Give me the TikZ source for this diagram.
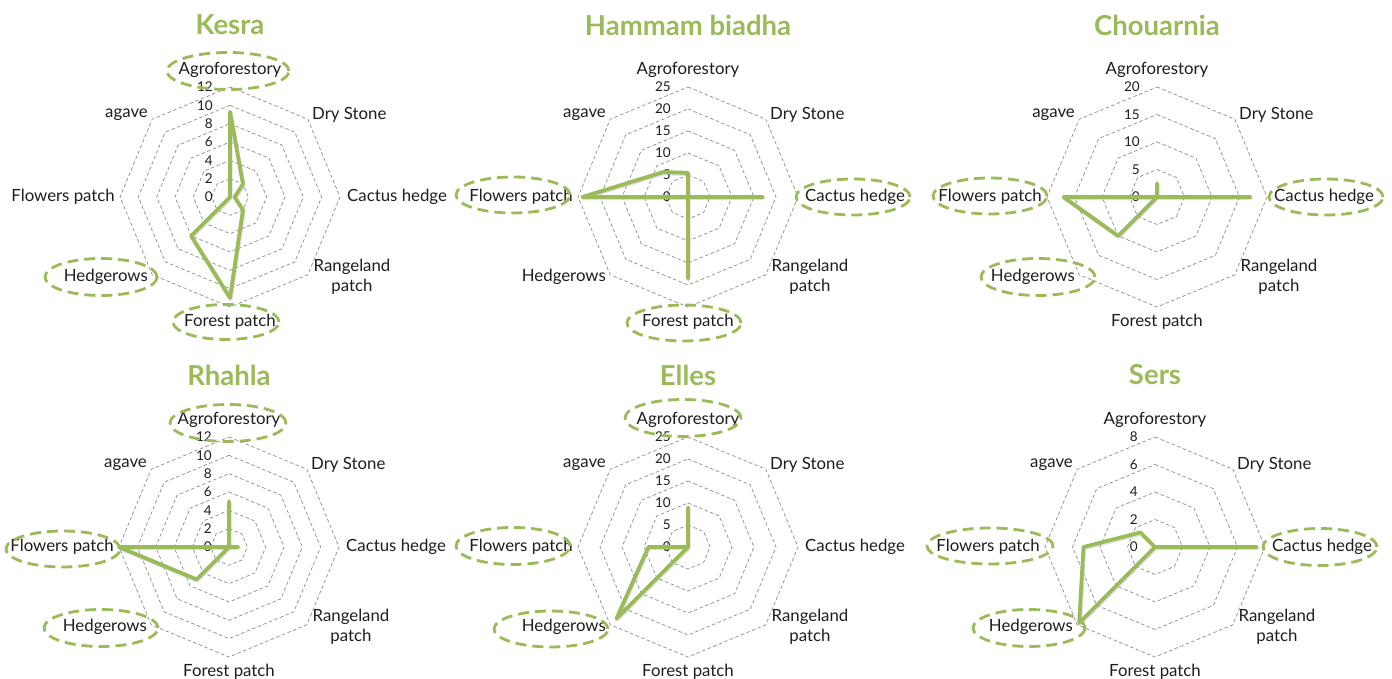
\documentclass[tikz,border=0pt]{standalone}
\usepackage{fontspec}
\setmainfont{Lato}
\definecolor{xlgreen}{HTML}{9BBB59}
\definecolor{gridgray}{HTML}{8C8C8C}
\definecolor{txt}{HTML}{1E1E1E}
\tikzset{
  gridring/.style={draw=gridgray, line width=0.7pt, dash pattern=on 3.5pt off 2.5pt, line join=round},
  dataline/.style={draw=xlgreen, line width=3.8pt, line join=round, line cap=round},
  shadowline/.style={draw=black!35, opacity=0.35, line width=3.8pt, line join=round, line cap=round},
  hlring/.style={draw=xlgreen, line width=2.8pt, dash pattern=on 11pt off 6pt},
  lab/.style={inner sep=0pt, font=\fontsize{16.8}{20}\selectfont, text=txt},
  tickl/.style={inner sep=0pt, anchor=east, font=\fontsize{13.5}{15}\selectfont, text=txt},
  ttl/.style={inner sep=0pt, font=\fontsize{27.5}{32}\selectfont\bfseries, text=xlgreen},
}
% #1 prefix, #2 cx, #3 cy, #4 max, #5 step, #6 title, #7 data
\newcommand\radarchart[7]{%
  \begin{scope}[shift={(#2,#3)}]
    \pgfmathtruncatemacro\nrings{#4/#5}
    \foreach \k in {1,...,\nrings}{%
      \pgfmathsetmacro\rr{\k*#5*110/#4}
      \pgfmathtruncatemacro\ticklab{\k*#5}
      \draw[gridring] (90:\rr) -- (45:\rr) -- (0:\rr) -- (-45:\rr) -- (-90:\rr) -- (-135:\rr) -- (180:\rr) -- (135:\rr) -- cycle;
      \node[tickl] (#1t\k) at (-17,\rr) {\ticklab};
    }
    \node[tickl] (#1t0) at (-17,0) {0};
    \node[ttl] (#1title) at (0,172) {#6};
    \node[lab] (#1agro) at (0,127) {Agroforestory};
    \node[lab,anchor=west] (#1dry) at (82,82) {Dry Stone};
    \node[lab,anchor=west] (#1cac) at (117,0) {Cactus hedge};
    \node[lab,align=center] (#1ran) at (122,-80) {Rangeland\\patch};
    \node[lab] (#1for) at (0,-125) {Forest patch};
    \node[lab,anchor=east] (#1hed) at (-82,-80) {Hedgerows};
    \node[lab,anchor=east] (#1flo) at (-115,0) {Flowers patch};
    \node[lab,anchor=east] (#1aga) at (-82,82) {agave};
    \foreach \v [count=\i from 0] in {#7}{%
      \coordinate (#1d\i) at ({90-45*\i}:{\v*110/#4});
    }
    \draw[shadowline, transform canvas={shift={(0.7pt,-1.3pt)}}] (#1d0) -- (#1d1) -- (#1d2) -- (#1d3) -- (#1d4) -- (#1d5) -- (#1d6) -- (#1d7) -- cycle;
    \draw[dataline] (#1d0) -- (#1d1) -- (#1d2) -- (#1d3) -- (#1d4) -- (#1d5) -- (#1d6) -- (#1d7) -- cycle;
  \end{scope}
}
\begin{document}
\begin{tikzpicture}[x=1pt,y=1pt]
  \fill[white] (0,0) rectangle (1392,679);
  \useasboundingbox (0,0) rectangle (1392,679);

  \radarchart{K}{230}{482}{12}{2}{Kesra}{9.3,2,0.5,2,11,6,0,0}
  \radarchart{H}{688}{482}{25}{5}{Hammam biadha}{5.5,0,17,0,18.5,0,24,8}
  \radarchart{C}{1157}{482}{20}{5}{Chouarnia}{2.5,0,17,0,0,10,17,0}
  \radarchart{R}{229}{132}{12}{2}{Rhahla}{5,0,1,0,0,5,12,0}
  \radarchart{E}{688}{132}{25}{5}{Elles}{9,0,0,0,0,23,9,0}
  \radarchart{S}{1155}{132}{8}{2}{Sers}{0,0,7.4,0,0,7.8,5.2,1.5}

  % highlight ellipses
  \draw[hlring] (228,608) ellipse [x radius=61, y radius=18.5];
  \draw[hlring] (101,402) ellipse [x radius=56, y radius=18.5];
  \draw[hlring] (226,357) ellipse [x radius=53, y radius=17.5];

  \draw[hlring] (513,484) ellipse [x radius=57, y radius=18];
  \draw[hlring] (853,482) ellipse [x radius=57, y radius=18];
  \draw[hlring] (684,356) ellipse [x radius=57, y radius=18];

  \draw[hlring] (990,483) ellipse [x radius=57, y radius=18];
  \draw[hlring] (1326,482) ellipse [x radius=57, y radius=18];
  \draw[hlring] (1038,402) ellipse [x radius=57, y radius=18.5];

  \draw[hlring] (228,256) ellipse [x radius=58, y radius=18.5];
  \draw[hlring] (63,130) ellipse [x radius=57, y radius=18];
  \draw[hlring] (101,51) ellipse [x radius=57, y radius=18.5];

  \draw[hlring] (683,261) ellipse [x radius=58, y radius=18.5];
  \draw[hlring] (513,133) ellipse [x radius=57, y radius=18.5];
  \draw[hlring] (551,50) ellipse [x radius=57, y radius=18];

  \draw[hlring] (990,133) ellipse [x radius=63, y radius=18];
  \draw[hlring] (1320,132) ellipse [x radius=57, y radius=18.5];
  \draw[hlring] (1029,51) ellipse [x radius=56, y radius=18.5];
\end{tikzpicture}
\end{document}
